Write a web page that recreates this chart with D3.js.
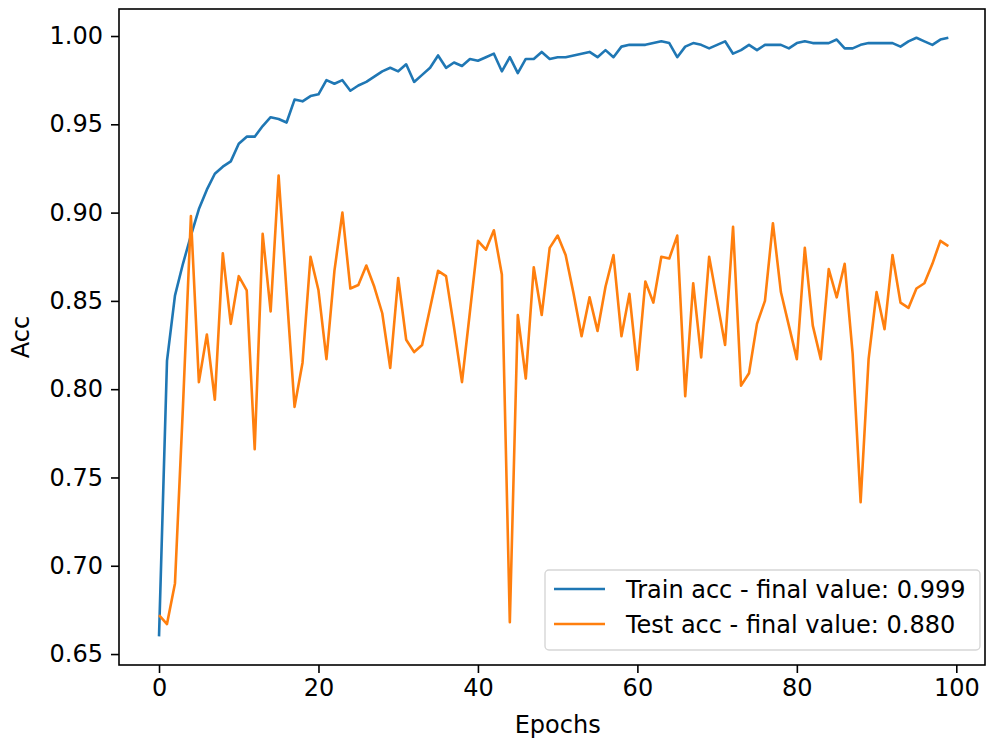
<!DOCTYPE html>
<html>
<head>
<meta charset="utf-8">
<script src="https://cdn.jsdelivr.net/npm/d3@7"></script>
<style>
  html, body { margin: 0; padding: 0; background: #fff; overflow: hidden; }
  svg { display: block; }
  svg text { font-family: "DejaVu Sans", sans-serif; fill: #000; }
</style>
</head>
<body>
<script>
// accuracy per epoch
const trainAcc = [
  0.660, 0.816, 0.853, 0.871, 0.887, 0.902, 0.913, 0.922, 0.926, 0.929,
  0.939, 0.943, 0.943, 0.949, 0.954, 0.953, 0.951, 0.964, 0.963, 0.966,
  0.967, 0.975, 0.973, 0.975, 0.969, 0.972, 0.974, 0.977, 0.980, 0.982,
  0.980, 0.984, 0.974, 0.978, 0.982, 0.989, 0.982, 0.985, 0.983, 0.987,
  0.986, 0.988, 0.990, 0.980, 0.988, 0.979, 0.987, 0.987, 0.991, 0.987,
  0.988, 0.988, 0.989, 0.990, 0.991, 0.988, 0.992, 0.988, 0.994, 0.995,
  0.995, 0.995, 0.996, 0.997, 0.996, 0.988, 0.994, 0.996, 0.995, 0.993,
  0.995, 0.997, 0.990, 0.992, 0.995, 0.992, 0.995, 0.995, 0.995, 0.993,
  0.996, 0.997, 0.996, 0.996, 0.996, 0.998, 0.993, 0.993, 0.995, 0.996,
  0.996, 0.996, 0.996, 0.994, 0.997, 0.999, 0.997, 0.995, 0.998, 0.999
];
const testAcc = [
  0.672, 0.667, 0.690, 0.790, 0.898, 0.804, 0.831, 0.794, 0.877, 0.837,
  0.864, 0.856, 0.766, 0.888, 0.844, 0.921, 0.855, 0.790, 0.815, 0.875,
  0.856, 0.817, 0.867, 0.900, 0.857, 0.859, 0.870, 0.858, 0.843, 0.812,
  0.863, 0.828, 0.821, 0.825, 0.846, 0.867, 0.864, 0.835, 0.804, 0.844,
  0.884, 0.879, 0.890, 0.865, 0.668, 0.842, 0.806, 0.869, 0.842, 0.880,
  0.887, 0.876, 0.854, 0.830, 0.852, 0.833, 0.858, 0.876, 0.830, 0.854,
  0.811, 0.861, 0.849, 0.875, 0.874, 0.887, 0.796, 0.860, 0.818, 0.875,
  0.850, 0.825, 0.892, 0.802, 0.809, 0.837, 0.850, 0.894, 0.855, 0.836,
  0.817, 0.880, 0.836, 0.817, 0.868, 0.852, 0.871, 0.820, 0.736, 0.817,
  0.855, 0.834, 0.876, 0.849, 0.846, 0.857, 0.860, 0.871, 0.884, 0.881
];
const xTicks = [0, 20, 40, 60, 80, 100];
const yTicks = [0.65, 0.70, 0.75, 0.80, 0.85, 0.90, 0.95, 1.00];
const seriesNames = ["Train acc - final value: 0.999", "Test acc - final value: 0.880"];
const seriesColors = ["#1f77b4", "#ff7f0e"];

const w = 987;
const h = 743;
const margin = { top: 9, right: 2, bottom: 78, left: 119 };
const innerWidth = w - margin.left - margin.right;
const innerHeight = h - margin.top - margin.bottom;
const fontSize = 24;

const svg = d3.select("body")
    .append("svg")
    .attr("width", w)
    .attr("height", h);

const xScale = d3.scaleLinear()
    .domain([-5.02, 103.6])
    .range([0, innerWidth]);

const yScale = d3.scaleLinear()
    .domain([0.6438, 1.0153])
    .range([innerHeight, 0]);

const g = svg.append("g")
    .attr("transform", `translate(${margin.left},${margin.top})`);

const line = d3.line()
    .x((d, i) => xScale(i))
    .y(d => yScale(d));

[trainAcc, testAcc].forEach((series, k) => {
    g.append("path")
        .datum(series)
        .attr("fill", "none")
        .attr("stroke", seriesColors[k])
        .attr("stroke-width", 2.6)
        .attr("stroke-linejoin", "round")
        .attr("d", line);
});

// axes
const xAxis = d3.axisBottom(xScale)
    .tickValues(xTicks)
    .tickFormat(d3.format("d"))
    .tickSize(8)
    .tickPadding(6);

const yAxis = d3.axisLeft(yScale)
    .tickValues(yTicks)
    .tickFormat(d3.format(".2f"))
    .tickSize(8)
    .tickPadding(8);

const xAxisG = g.append("g")
    .attr("transform", `translate(0, ${innerHeight})`)
    .call(xAxis);

const yAxisG = g.append("g")
    .call(yAxis);

[xAxisG, yAxisG].forEach(a => {
    a.select(".domain").remove();
    a.selectAll(".tick line").attr("stroke", "#000").attr("stroke-width", 1.6);
    a.selectAll(".tick text")
        .style("font-size", fontSize + "px")
        .style("font-family", "DejaVu Sans");
});

// frame
g.append("rect")
    .attr("x", 0)
    .attr("y", 0)
    .attr("width", innerWidth)
    .attr("height", innerHeight)
    .attr("fill", "none")
    .attr("stroke", "#000")
    .attr("stroke-width", 1.6);

// axis labels
svg.append("text")
    .attr("x", margin.left + xScale(50))
    .attr("y", 733)
    .attr("text-anchor", "middle")
    .style("font-size", fontSize + "px")
    .text("Epochs");

svg.append("text")
    .attr("transform", `translate(29, ${margin.top + innerHeight / 2}) rotate(-90)`)
    .attr("text-anchor", "middle")
    .style("font-size", fontSize + "px")
    .text("Acc");

// legend
const legend = svg.append("g")
    .attr("transform", "translate(545, 570)");

legend.append("rect")
    .attr("width", 435)
    .attr("height", 80)
    .attr("rx", 4)
    .attr("fill", "#fff")
    .attr("fill-opacity", 0.8)
    .attr("stroke", "#d6d6d6")
    .attr("stroke-width", 1.4);

seriesNames.forEach((name, k) => {
    const yy = 19 + k * 35;
    legend.append("line")
        .attr("x1", 9)
        .attr("x2", 60)
        .attr("y1", yy)
        .attr("y2", yy)
        .attr("stroke", seriesColors[k])
        .attr("stroke-width", 2.6);
    legend.append("text")
        .attr("x", 81)
        .attr("y", yy)
        .attr("dy", "0.36em")
        .style("font-size", fontSize + "px")
        .text(name);
});
</script>
</body>
</html>
